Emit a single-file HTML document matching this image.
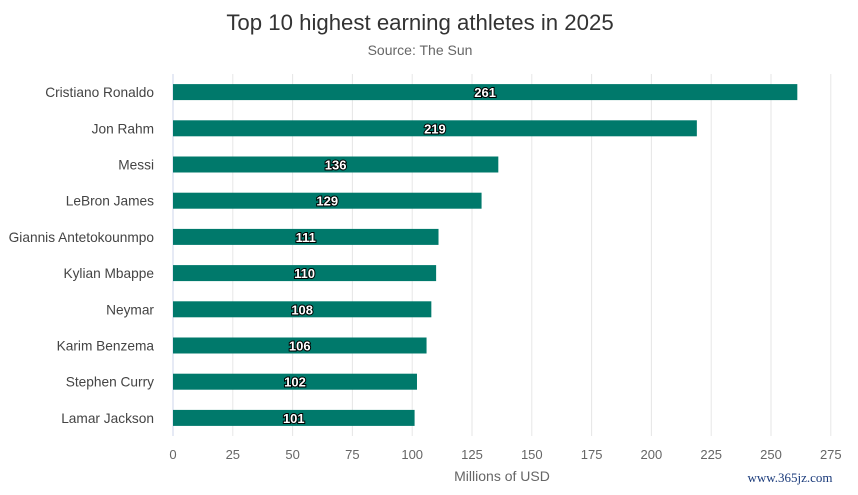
<!DOCTYPE html>
<html><head><meta charset="utf-8"><style>
html,body{margin:0;padding:0;background:#fff;}
svg{display:block;font-family:"Liberation Sans",Arial,sans-serif;}
</style></head><body>
<svg id="chart" width="858" height="495" viewBox="0 0 858 495">
<text x="420" y="30" text-anchor="middle" font-size="22.2" fill="#333">Top 10 highest earning athletes in 2025</text>
<text x="420" y="55" text-anchor="middle" font-size="14" fill="#666">Source: The Sun</text>
<g id="grid"></g>
<g id="bars"></g>
<g id="ylabels"></g>
<g id="xlabels"></g>
<text x="502" y="481" text-anchor="middle" font-size="14" fill="#666">Millions of USD</text>
<text x="790" y="482" text-anchor="middle" font-size="13" fill="#1a3a7a" font-family="Liberation Serif,serif">www.365jz.com</text>
</svg>
<script>
const categories = ["Cristiano Ronaldo","Jon Rahm","Messi","LeBron James","Giannis Antetokounmpo","Kylian Mbappe","Neymar","Karim Benzema","Stephen Curry","Lamar Jackson"];
const earnings = [261,219,136,129,111,110,108,106,102,101];
const xTicks = [0,25,50,75,100,125,150,175,200,225,250,275];

const NS = "http://www.w3.org/2000/svg";
const x0 = 173, pxPerUnit = 2.392, plotTop = 74, plotBottom = 436;
const band = (plotBottom - plotTop) / categories.length;
const xScale = v => x0 + v * pxPerUnit;
const yScale = i => plotTop + band * i + band / 2;
function mk(tag, attrs, parent){const e=document.createElementNS(NS,tag);for(const k in attrs)e.setAttribute(k,attrs[k]);parent.appendChild(e);return e;}
const grid=document.getElementById('grid'),bars=document.getElementById('bars'),yl=document.getElementById('ylabels'),xl=document.getElementById('xlabels');
xTicks.forEach(t=>{
  const l=mk('line',{x1:xScale(t),x2:xScale(t),y1:plotTop,y2:plotBottom,stroke:t===0?'#ccd6eb':'#e6e6e6','stroke-width':1},grid);
  
  
  const tx=mk('text',{x:xScale(t),y:459,'text-anchor':'middle','font-size':13,fill:'#666'},xl);
  tx.textContent=t;
  
  
});
categories.forEach((c,i)=>{
  const cy=yScale(i);
  const lab=mk('text',{x:154,y:cy+5,'text-anchor':'end','font-size':13.7,fill:'#444'},yl);
  lab.textContent=c;
  
  
  const r=mk('rect',{x:xScale(0),y:cy-8,width:xScale(earnings[i])-xScale(0),height:16,fill:'#00796b'},bars);
  
  
  const v=mk('text',{x:xScale(earnings[i]/2),y:cy+5,'text-anchor':'middle','font-size':13,'font-weight':'bold',fill:'#fff',stroke:'#000','stroke-width':2,'paint-order':'stroke'},bars);
  v.textContent=earnings[i];
  
  
});
</script>
</body></html>
